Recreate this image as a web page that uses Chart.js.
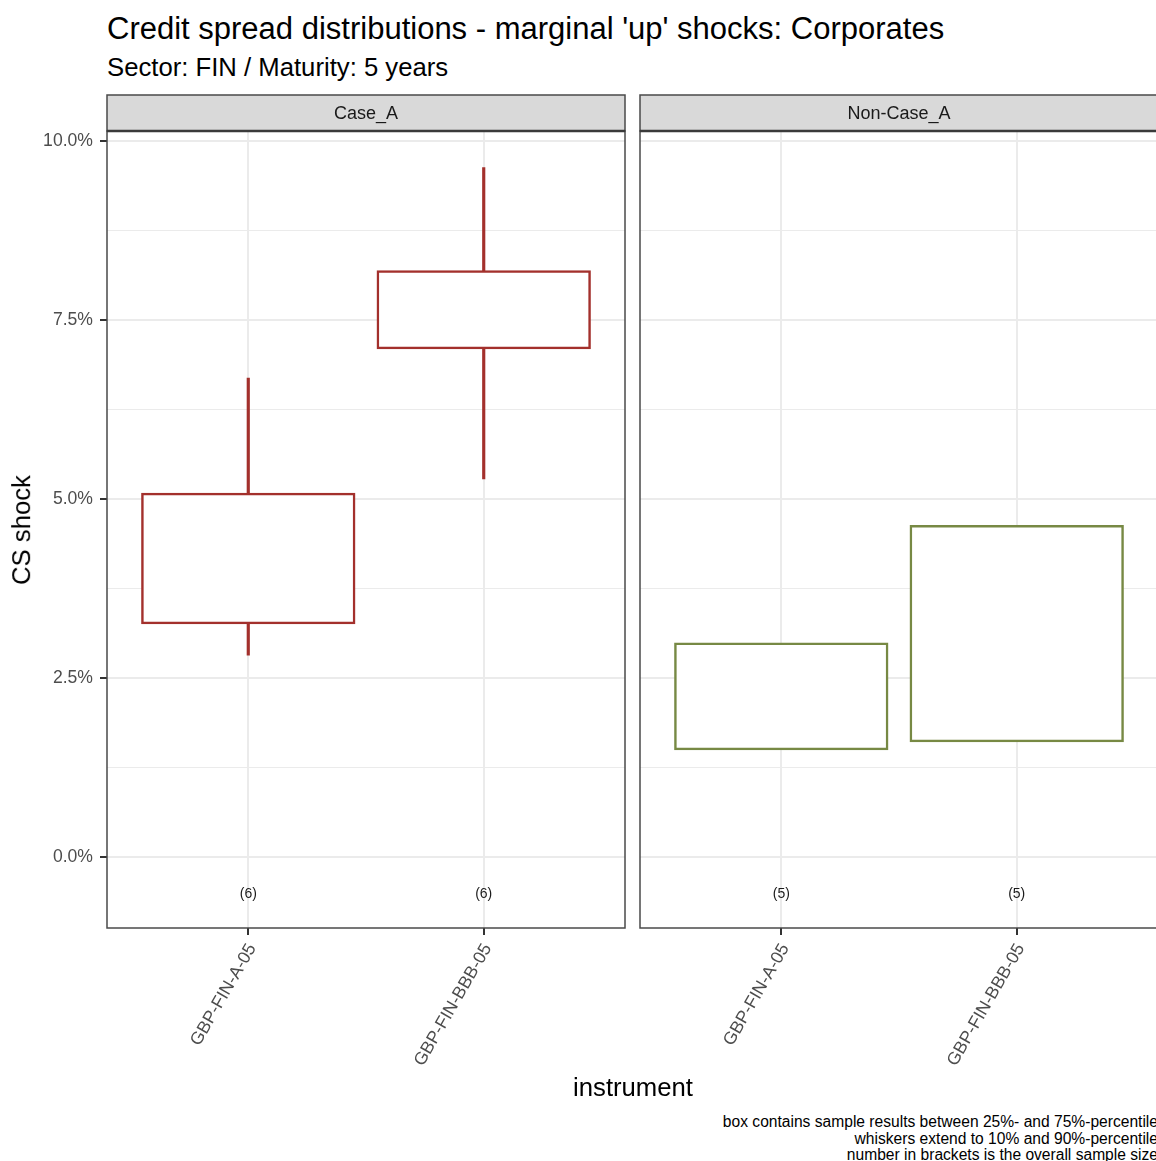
<!DOCTYPE html>
<html>
<head>
<meta charset="utf-8">
<script src="https://cdn.jsdelivr.net/npm/chart.js@4.4.1/dist/chart.umd.min.js"></script>
<style>
  html, body { margin: 0; padding: 0; background: #fff; overflow: hidden; }
  #page { position: relative; width: 1156px; height: 1161px; overflow: hidden;
          font-family: "Liberation Sans", Arial, Helvetica, sans-serif; background: #fff; }
  .txt { position: absolute; white-space: nowrap; line-height: 1; }
  .panel { position: absolute; }
</style>
</head>
<body>
<div id="page">
  <div class="txt" style="left:107px; top:13px; font-size:31px; color:#000;">Credit spread distributions - marginal 'up' shocks: Corporates</div>
  <div class="txt" style="left:107px; top:55px; font-size:25.7px; color:#000;">Sector: FIN / Maturity: 5 years</div>

  <div class="panel" style="left:0px; top:93px; width:627px; height:982px;"><canvas id="panelA"></canvas></div>
  <div class="panel" style="left:639px; top:93px; width:521px; height:982px;"><canvas id="panelB"></canvas></div>

  <div class="txt" style="left:22px; top:530px; font-size:25.7px; color:#000; transform: translate(-50%, -50%) rotate(-90deg);">CS shock</div>
  <div class="txt" style="left:633px; top:1088px; font-size:25.7px; color:#000; transform: translate(-50%, -50%);">instrument</div>

  <div class="txt" style="right:-2px; top:1114px; font-size:15.6px; line-height:16.6px; color:#000; text-align:right;">box contains sample results between 25%- and 75%-percentile<br>whiskers extend to 10% and 90%-percentile<br>number in brackets is the overall sample size</div>
</div>

<script>
// ---- data (CS shock in %) ----
const instruments = ['GBP-FIN-A-05', 'GBP-FIN-BBB-05'];
const facetLabels = ['Case_A', 'Non-Case_A'];

// Case_A
const caseA_p10 = [2.82, 5.28];
const caseA_p25 = [3.27, 7.11];
const caseA_p75 = [5.07, 8.18];
const caseA_p90 = [6.69, 9.63];
const caseA_n   = [6, 6];

// Non-Case_A
const nonCaseA_p25 = [1.51, 1.62];
const nonCaseA_p75 = [2.98, 4.62];
const nonCaseA_n   = [5, 5];

// y axis
const yMajorTicks = [0, 2.5, 5, 7.5, 10];
const yMinorTicks = [1.25, 3.75, 6.25, 8.75];
const yRange = [-0.99, 10.14];
const countLabelY = -0.5;

const FONT = '"Liberation Sans", Arial, Helvetica, sans-serif';
const RED = '#A3302C';
const OLIVE = '#778944';

// panel frame, facet strip and sample-size labels
const facetDecor = {
  id: 'facetDecor',
  afterDatasetsDraw(chart, args, opts) {
    const { ctx, chartArea: a, scales } = chart;
    ctx.save();
    // sample sizes
    ctx.font = '14px ' + FONT;
    ctx.fillStyle = '#1A1A1A';
    ctx.textAlign = 'center';
    ctx.textBaseline = 'middle';
    opts.counts.forEach((n, i) => {
      ctx.fillText('(' + n + ')', scales.x.getPixelForValue(i + 1), scales.y.getPixelForValue(countLabelY) + 1);
    });
    // panel border
    ctx.strokeStyle = '#4A4A4A';
    ctx.lineWidth = 1.5;
    ctx.strokeRect(a.left, a.top, a.right - a.left, a.bottom - a.top);
    // strip
    const sh = 36;
    ctx.fillStyle = '#D9D9D9';
    ctx.fillRect(a.left, a.top - sh, a.right - a.left, sh);
    ctx.strokeRect(a.left, a.top - sh, a.right - a.left, sh);
    ctx.beginPath();
    ctx.moveTo(a.left, a.top); ctx.lineTo(a.right, a.top);
    ctx.lineWidth = 2.5; ctx.strokeStyle = '#3A3A3A'; ctx.stroke();
    ctx.fillStyle = '#1A1A1A';
    ctx.font = '18px ' + FONT;
    ctx.fillText(opts.label, (a.left + a.right) / 2, a.top - sh / 2 + 1);
    ctx.restore();
  }
};

function makePanel(canvasId, label, datasets, counts, showY, pad) {
  return new Chart(document.getElementById(canvasId), {
    type: 'bar',
    data: { datasets },
    options: {
      responsive: true,
      maintainAspectRatio: false,
      animation: false,
      layout: { padding: pad },
      plugins: {
        legend: { display: false },
        tooltip: { enabled: false },
        facetDecor: { label, counts }
      },
      scales: {
        x: {
          type: 'linear',
          offset: false,
          min: 0.4, max: 2.6,
          afterBuildTicks: s => { s.ticks = instruments.map((_, i) => ({ value: i + 1 })); },
          afterFit: s => { s.height = 147; },
          border: { display: false },
          grid: { offset: false, color: '#EBEBEB', lineWidth: 2, tickColor: '#333333', tickWidth: 2, tickLength: 7 },
          ticks: {
            autoSkip: false, minRotation: 60, maxRotation: 60, padding: 5, labelOffset: 4,
            color: '#4D4D4D', font: { family: FONT, size: 17.6 },
            callback: v => instruments[v - 1] ?? ''
          }
        },
        y: {
          type: 'linear',
          min: yRange[0], max: yRange[1],
          afterBuildTicks: s => {
            s.ticks = [...yMajorTicks, ...yMinorTicks].sort((p, q) => p - q).map(v => ({ value: v }));
          },
          afterFit: s => { s.width = showY ? 107 : 0; },
          border: { display: false },
          grid: {
            color: '#EBEBEB',
            lineWidth: c => (yMajorTicks.includes(c.tick && c.tick.value) ? 2 : 1),
            drawTicks: showY,
            tickLength: 7,
            tickWidth: 2,
            tickColor: c => (yMajorTicks.includes(c.tick && c.tick.value) ? '#333333' : 'rgba(0,0,0,0)')
          },
          ticks: {
            display: showY, autoSkip: false, padding: 7,
            color: '#4D4D4D', font: { family: FONT, size: 17.6 },
            callback: v => (yMajorTicks.includes(v) ? v.toFixed(1) + '%' : '')
          }
        }
      }
    },
    plugins: [facetDecor]
  });
}

function boxData(lo, hi) { return instruments.map((_, i) => ({ x: i + 1, y: [lo[i], hi[i]] })); }

// boxes first so they draw over the whiskers
makePanel('panelA', facetLabels[0], [
  {
    data: boxData(caseA_p25, caseA_p75),
    grouped: false, categoryPercentage: 1, barPercentage: 0.9,
    backgroundColor: '#FFFFFF', borderColor: RED, borderWidth: 2.5, borderSkipped: false, inflateAmount: 1.2
  },
  {
    data: boxData(caseA_p10, caseA_p90),
    grouped: false, barThickness: 2.5,
    backgroundColor: RED, borderWidth: 0
  }
], caseA_n, true, { top: 38, right: 2, left: 0, bottom: 0 });

makePanel('panelB', facetLabels[1], [
  {
    data: boxData(nonCaseA_p25, nonCaseA_p75),
    grouped: false, categoryPercentage: 1, barPercentage: 0.9,
    backgroundColor: '#FFFFFF', borderColor: OLIVE, borderWidth: 2.5, borderSkipped: false, inflateAmount: 1.2
  }
], nonCaseA_n, false, { top: 38, right: 2, left: 1, bottom: 0 });
</script>
</body>
</html>
